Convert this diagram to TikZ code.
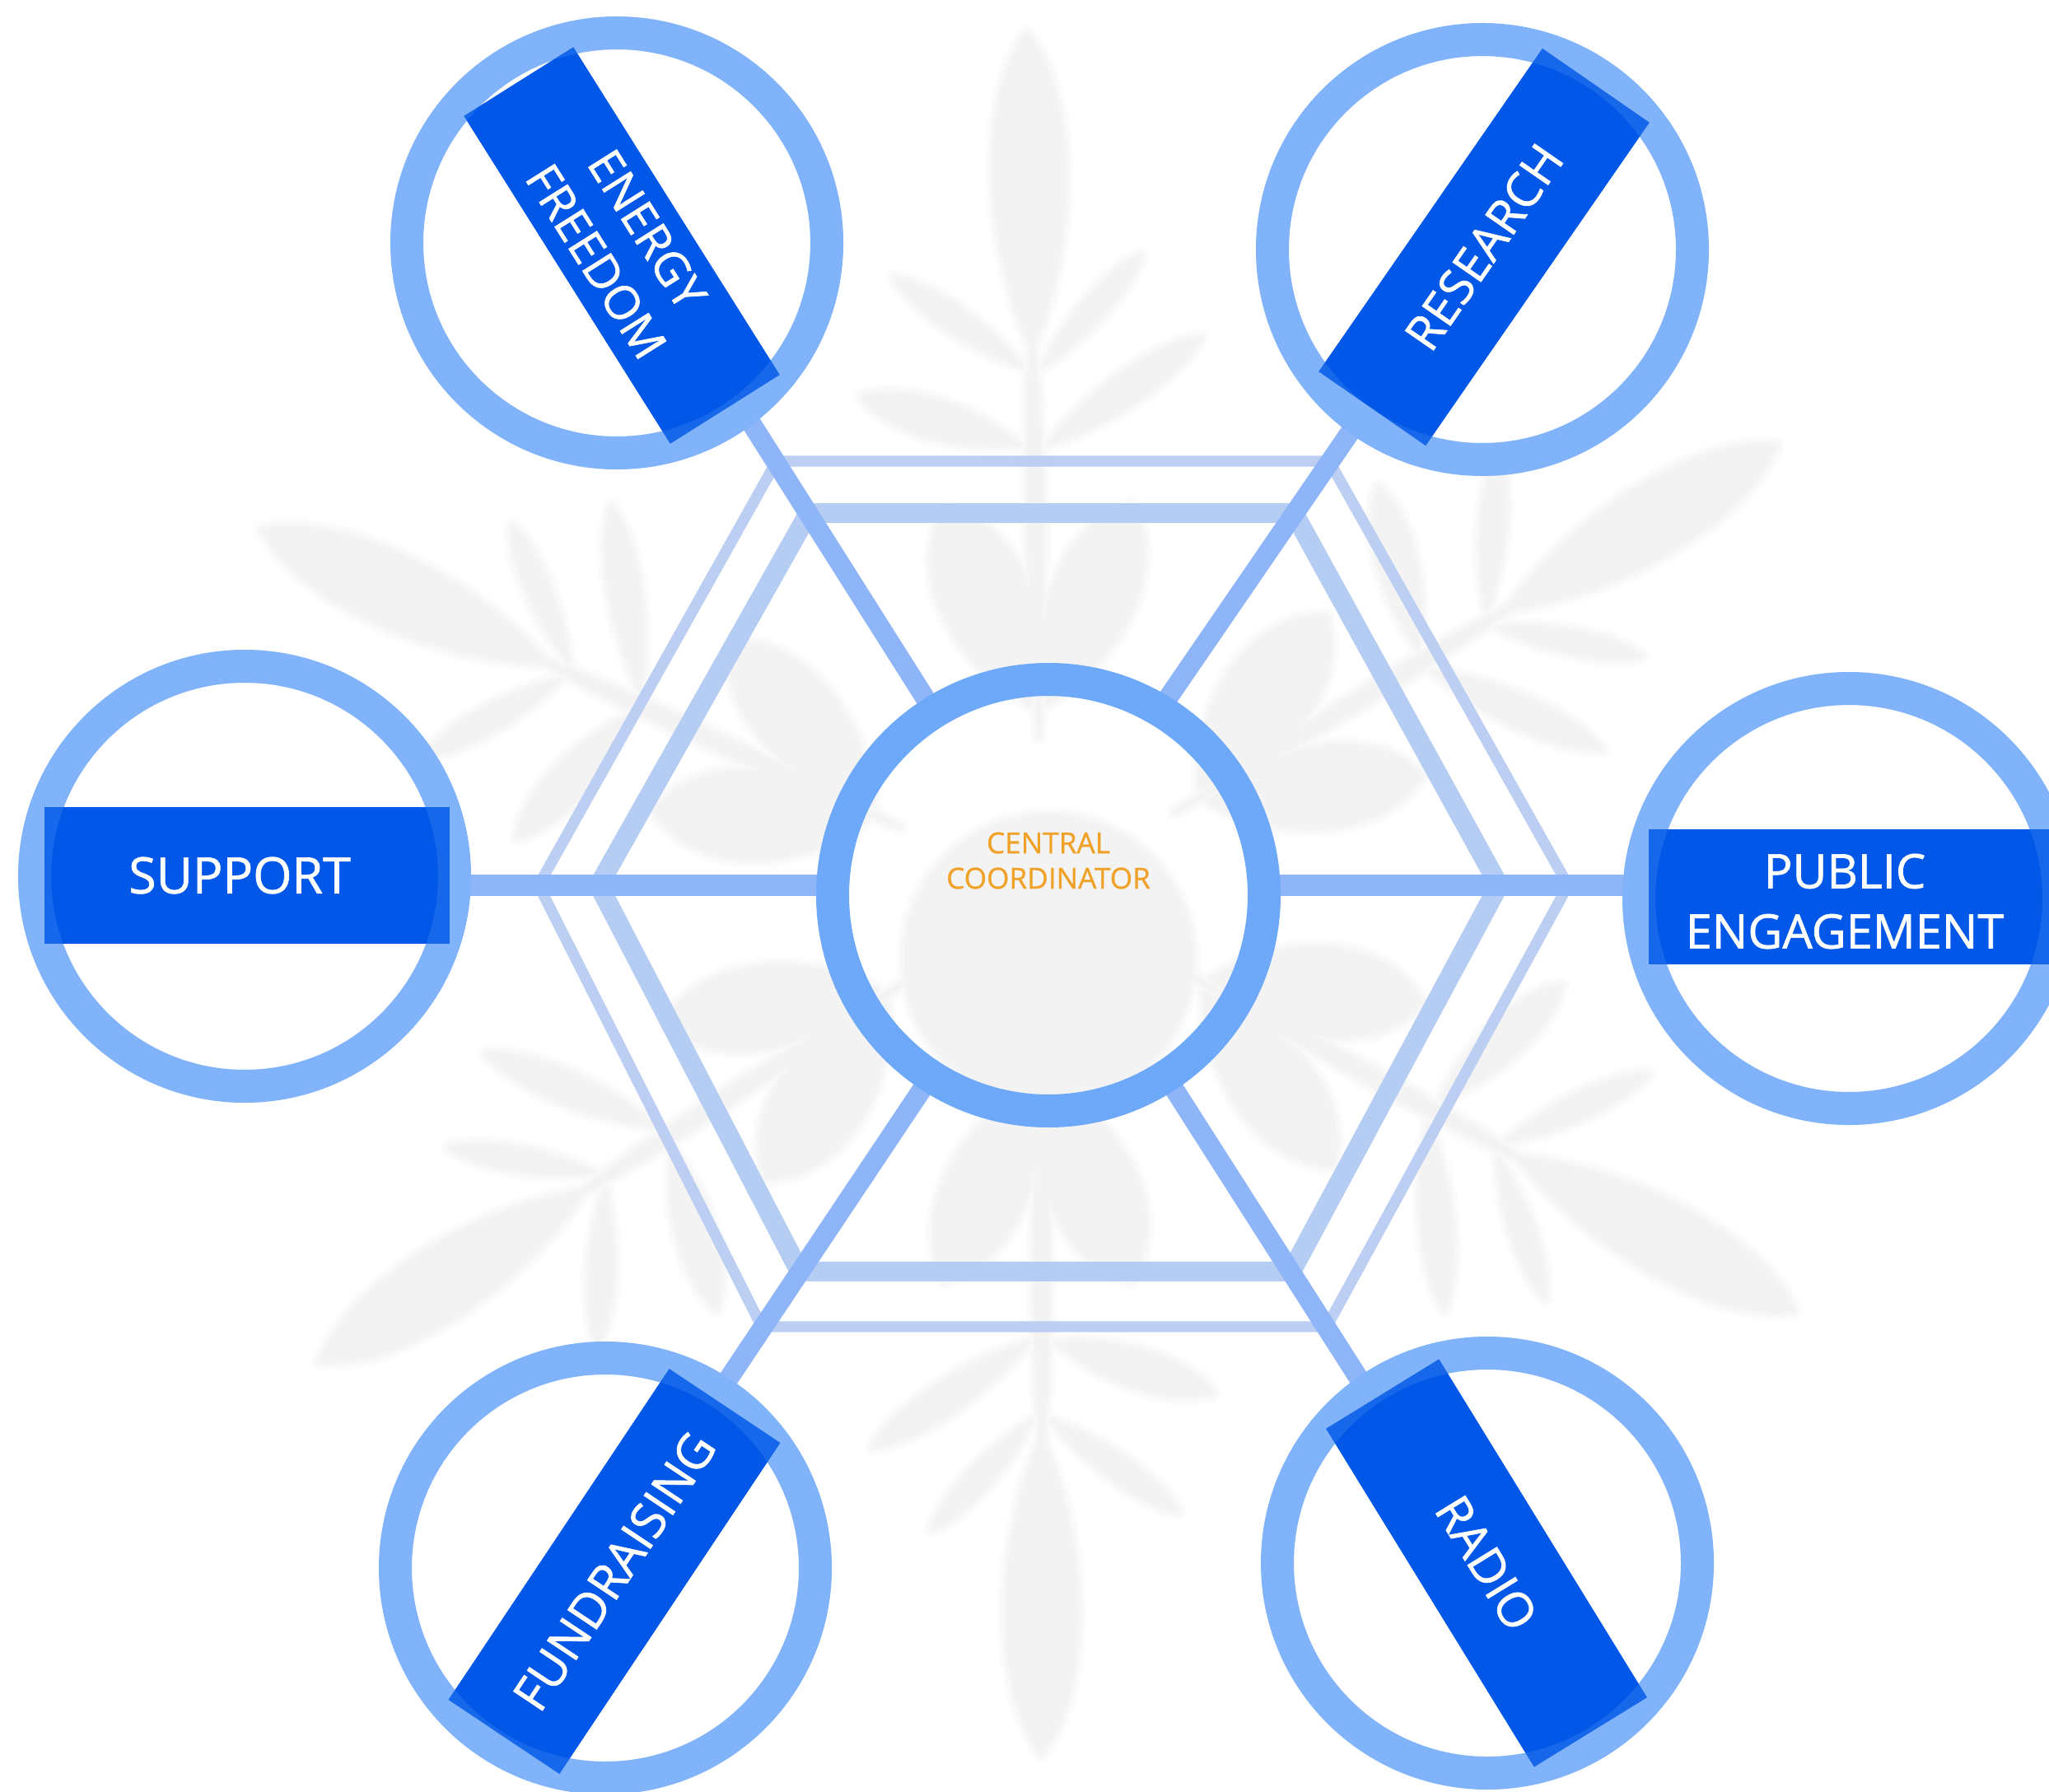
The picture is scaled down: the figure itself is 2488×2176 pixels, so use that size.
\documentclass[tikz,border=0pt]{standalone}
\usepackage{fontspec}
\setmainfont{Open Sans}
\newfontfamily\bandfont[FakeBold=1.1]{Open Sans}
\newfontfamily\hubfont[FakeBold=0.8]{Open Sans}
\definecolor{ringc}{HTML}{80B3FA}
\definecolor{hubc}{HTML}{6EA8F8}
\definecolor{bandc}{HTML}{0057E8}
\definecolor{spokec}{HTML}{8FB5F9}
\definecolor{hexa}{HTML}{B6CDF3}
\definecolor{hexb}{HTML}{BCCEF2}
\definecolor{orangec}{HTML}{F0A128}
\definecolor{snowa}{HTML}{FCFCFC}
\definecolor{snowb}{HTML}{F9F9F9}
\definecolor{snowc}{HTML}{F6F6F6}
\definecolor{snowd}{HTML}{F3F3F3}
\tikzset{
  ring/.style={circle,draw=ringc,line width=4mm,fill=white,minimum size=5.1cm,inner sep=0pt,outer sep=0pt},
  hub/.style={circle,draw=hubc,line width=4mm,minimum size=5.24cm,inner sep=0pt,outer sep=0pt},
  band/.style={rectangle,fill=bandc,text=white,align=center,inner sep=0pt,outer sep=0pt},
  overlap/.style={draw=ringc,line width=4mm,opacity=.18},
  spoke/.style={draw=spokec,line width=6.8pt},
  hspoke/.style={draw=spokec,line width=7.4pt},
  hexthick/.style={draw=hexa,line width=6.8pt,line join=round},
  hexthin/.style={draw=hexb,line width=3.8pt,line join=round},
}
\newcommand\bsize[1]{\bandfont\fontsize{#1}{20.8}\selectfont}
\newcommand\drawleaf[7]{%
  \pgfmathsetmacro\ldx{#3-#1}\pgfmathsetmacro\ldy{#4-#2}%
  \pgfmathsetmacro\llen{veclen(\ldx,\ldy)}%
  \pgfmathsetmacro\lnx{-\ldy/\llen*#5*1.33}\pgfmathsetmacro\lny{\ldx/\llen*#5*1.33}%
  \pgfmathsetmacro\aax{#1+.35*\ldx+\lnx}\pgfmathsetmacro\aay{#2+.35*\ldy+\lny}%
  \pgfmathsetmacro\bbx{#1+.8*\ldx+\lnx}\pgfmathsetmacro\bby{#2+.8*\ldy+\lny}%
  \pgfmathsetmacro\ccx{#1+.8*\ldx-\lnx}\pgfmathsetmacro\ccy{#2+.8*\ldy-\lny}%
  \pgfmathsetmacro\ddx{#1+.35*\ldx-\lnx}\pgfmathsetmacro\ddy{#2+.35*\ldy-\lny}%
  \filldraw[fill=#6,draw=#6,line width=#7,line join=round]
    (#1,#2) .. controls (\aax,\aay) and (\bbx,\bby) .. (#3,#4)
    .. controls (\ccx,\ccy) and (\ddx,\ddy) .. cycle;%
}
\begin{document}
\begin{tikzpicture}[x=.01cm,y=-.01cm]
\path[use as bounding box,clip] (0,0) rectangle (2488,2176);
% faint snowflake behind everything
\foreach \w/\c in {6pt/snowa,4pt/snowb,2pt/snowc,0.1pt/snowd}{
  \filldraw[fill=\c,draw=\c,line width=\w] (1273,1165) circle (175);
  \foreach \a in {-1,58.6,119,180,237,295}{
    \begin{scope}[shift={(1265,1085)},rotate=-\a]
      \foreach \bx/\br/\tx/\tr/\hw in {
        0/660/0/1045/44,
        12/640/133/772/14, -12/640/-165/750/15,
        16/545/205/672/19, -16/545/-208/606/23,
        0/190/0/680/9,
        -10/230/-108/470/54, 10/230/118/470/50}{
        \pgfmathsetmacro\ya{-\br}\pgfmathsetmacro\yb{-\tr}
        \drawleaf{\bx}{\ya}{\tx}{\yb}{\hw}{\c}{\w}
      }
    \end{scope}
  }
}
% hexagon corners
\coordinate (oa) at (943,560);  \coordinate (ob) at (1614,560);
\coordinate (oc) at (1904,1075);\coordinate (od) at (1611,1611);
\coordinate (oe) at (925,1611); \coordinate (of) at (654,1075);
\coordinate (ia) at (982,623);  \coordinate (ib) at (1571,623);
\coordinate (ic) at (1820,1075);\coordinate (id) at (1568,1544);
\coordinate (ie) at (971,1544); \coordinate (if) at (727,1075);
\draw[hexthin] (oa)--(ob)--(oc)--(od)--(oe)--(of)--cycle;
\draw[hexthick] (ia)--(ib)--(ic)--(id)--(ie)--(if)--cycle;
% named anchors for the rings (drawn again after the spokes)
\path node[hub,draw=none] (hub) at (1273,1087) {};
\path node[ring,draw=none,fill=none] (energy) at (749,295) {};
\path node[ring,draw=none,fill=none] (research) at (1800,303) {};
\path node[ring,draw=none,fill=none] (support) at (297,1064) {};
\path node[ring,draw=none,fill=none] (public) at (2245,1091) {};
\path node[ring,draw=none,fill=none] (fund) at (735,1904) {};
\path node[ring,draw=none,fill=none] (radio) at (1806,1898) {};
\coordinate (hline) at (0,1075);
% white discs of the outer rings
\foreach \n in {energy,research,support,public,fund,radio}{
  \fill[white] (\n.center) circle (255);
}
% spokes
\draw[spoke] (hub.122) -- (energy.-53);
\draw[spoke] (hub.59) -- (research.-126);
\draw[spoke] (hub.-123) -- (fund.57.4);
\draw[spoke] (hub.-57) -- (radio.125);
\draw[hspoke] (support.east |- hline) -- (hub.west |- hline);
\draw[hspoke] (hub.east |- hline) -- (public.west |- hline);
% rings over the spoke ends
\draw[hubc,line width=4mm] (hub.center) circle (262);
\foreach \n in {energy,research,support,public,fund,radio}{
  \draw[ringc,line width=4mm] (\n.center) circle (255);
}
% bands
\node[band,rotate=-57.8,minimum width=4.70cm,minimum height=1.57cm,font=\bsize{16.2}] (benergy) at (755,298) {ENERGY\\FREEDOM};
\node[band,rotate=55.3,minimum width=4.77cm,minimum height=1.58cm,font=\bsize{16.7}] (bresearch) at (1802,300) {RESEARCH};
\node[band,minimum width=4.92cm,minimum height=1.65cm,font=\bsize{17.3}] (bsupport) at (300,1063) {SUPPORT\hspace*{.18cm}};
\node[band,minimum width=4.86cm,minimum height=1.64cm,font=\bsize{16.4}] (bpublic) at (2245,1089) {\rule{0pt}{15pt}PUBLIC\hspace*{.1cm}\\ENGAGEMENT\hspace*{.1cm}};
\node[band,rotate=56.3,minimum width=4.83cm,minimum height=1.62cm,font=\bsize{16.9}] (bfund) at (746,1908) {FUNDRAISING};
\node[band,rotate=-58.4,minimum width=4.82cm,minimum height=1.61cm,font=\bsize{16.7}] (bradio) at (1805,1898) {RADIO};
% the ring shows faintly through each band
\foreach \n in {energy,research,support,public,fund,radio}{
  \draw[overlap] (\n.center) circle (255);
}
\node[text=orangec,align=center,font=\hubfont\fontsize{10}{12.2}\selectfont] (hubtext) at (1273,1045) {CENTRAL\\COORDINATOR};
\end{tikzpicture}
\end{document}
